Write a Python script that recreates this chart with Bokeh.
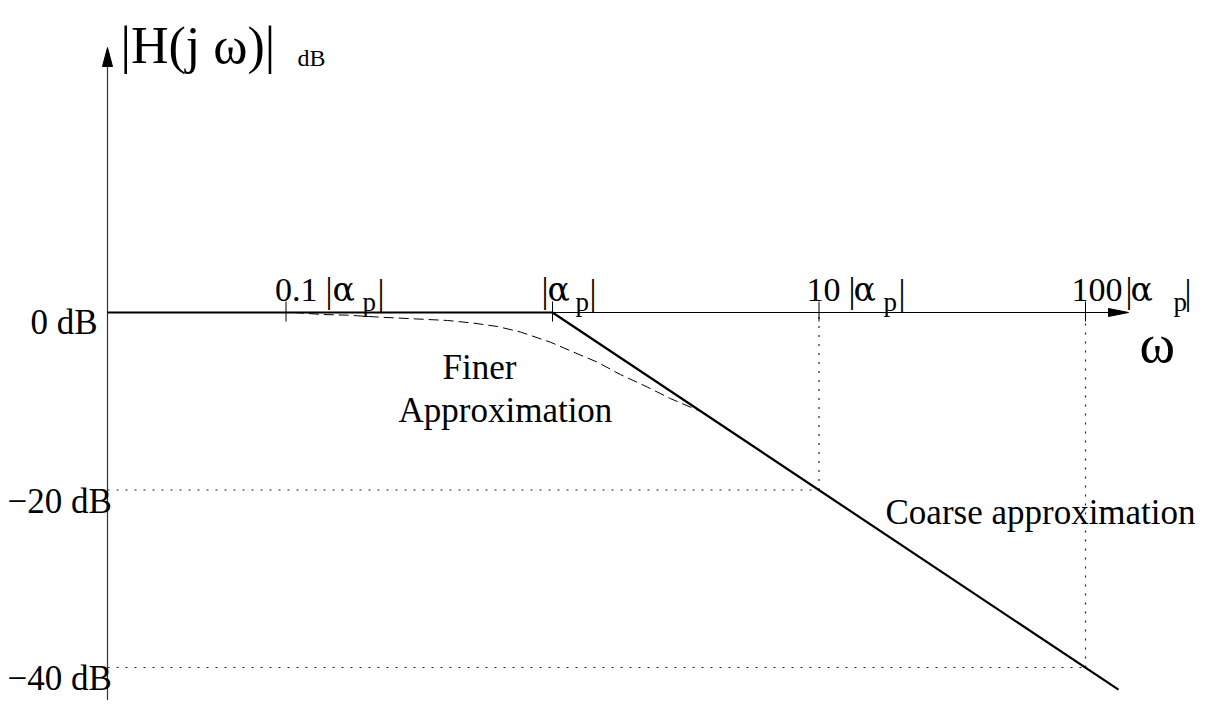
from bokeh.plotting import figure
from bokeh.models import Range1d
from bokeh.core.properties import value
from bokeh.embed import file_html
from bokeh.resources import INLINE

# ---------------- data ----------------
tick_omega = [0.1, 1.0, 10.0, 100.0]          # multiples of |alpha_p|
tick_numbers = ["0.1", "", "10", "100"]
db_levels = [0, -20, -40]
db_labels = ["0 dB", "\u221220 dB", "\u221240 dB"]
guide_omega = [10.0, 100.0]                   # asymptote crossing points
guide_db = [-20, -40]
# coarse (asymptotic) approximation: flat, break at |alpha_p|, -20 dB/decade
coarse_omega = [0.0214, 1.0, 133.0]
coarse_db = [0.0, 0.0, -42.5]
# finer approximation (dashed)
finer_omega = [0.107, 0.138, 0.170, 0.226, 0.302, 0.404, 0.507, 0.622, 0.759,
               0.983, 1.20, 1.475, 1.80, 2.27, 2.77, 3.38, 3.69]
finer_db = [0.0, -0.23, -0.30, -0.53, -0.71, -0.9, -1.2, -1.58, -2.2,
            -3.35, -4.47, -5.6, -7.0, -8.4, -9.7, -10.8, -11.3]

# ---------------- layout (pixel geometry) ----------------
W, H = 1200, 700
OMEGA1_PX, DECADE_PX = 552.0, 266.5
DB0_PX, PX_PER_DB = 312.0, 8.875
LX0 = (0 - OMEGA1_PX) / DECADE_PX
LX1 = (W - OMEGA1_PX) / DECADE_PX
DB_TOP = DB0_PX / PX_PER_DB
DB_BOT = -(H - DB0_PX) / PX_PER_DB


def wx(px):
    return 10 ** ((px - OMEGA1_PX) / DECADE_PX)


def dby(py):
    return -(py - DB0_PX) / PX_PER_DB


FONT = "Liberation Serif"

p = figure(width=W, height=H, x_axis_type="log",
           x_range=Range1d(10 ** LX0, 10 ** LX1), y_range=Range1d(DB_BOT, DB_TOP),
           x_axis_location=None, y_axis_location=None,
           output_backend="svg", toolbar_location=None, min_border=0)
p.grid.visible = False
p.outline_line_color = None
p.background_fill_color = "white"
p.border_fill_color = "white"

axis_x = wx(107)

# dotted guides
gx, gy = [], []
for w, d in zip(guide_omega, guide_db):
    gx.append([axis_x, w]); gy.append([d, d])
    gx.append([w, w]); gy.append([d, 0])
p.multi_line(gx, gy, line_color="#222222", line_width=1.2, line_dash="2 7")

# axes
p.line([axis_x, wx(1110)], [0, 0], line_color="black", line_width=1.2)
p.line([axis_x, axis_x], [DB_BOT, dby(64)], line_color="#333333", line_width=1.2)
p.patch([wx(1128), wx(1108), wx(1108)], [0, dby(308), dby(316)],
        fill_color="black", line_color="black", line_width=1)
p.patch([axis_x, wx(102), wx(112)], [dby(47), dby(66), dby(66)],
        fill_color="black", line_color="black", line_width=1)

# ticks
p.segment(x0=tick_omega, y0=[dby(301)] * 4, x1=tick_omega, y1=[dby(321)] * 4,
          line_color="black", line_width=1)

# curves
p.line(finer_omega, finer_db, line_color="black", line_width=1, line_dash="10 5")
p.line(coarse_omega, coarse_db, line_color="black", line_width=2.2)


def txt(xs, ys, texts, size, align="left", font=FONT):
    p.text(x=xs, y=ys, text=texts, text_font=value(font), text_font_size=size,
           text_baseline="alphabetic", text_align=align, text_color="black")


# y labels
txt([wx(30), wx(7), wx(7)], [dby(322), dby(501), dby(678)], db_labels, "35px")

# tick labels
txt([wx(317), wx(540), wx(840), wx(1122)], [dby(289)] * 4, tick_numbers, "34px", "right")
txt([wx(325), wx(541), wx(848), wx(1125)], [dby(290)] * 4, ["|"] * 4, "35px")
txt([wx(332), wx(547), wx(853), wx(1130)], [dby(289)] * 4, ["\u03b1"] * 4, "33px",
    font="DejaVu Serif")
txt([wx(362), wx(575), wx(883), wx(1173)], [dby(301)] * 4, ["p"] * 4, "27px")
txt([wx(377), wx(589), wx(898), wx(1184)], [dby(292)] * 4, ["|"] * 4, "35px")

# title and axis name
txt([wx(120)], [dby(45)], ["|H(j \u03c9)|"], "52px")
txt([wx(297)], [dby(57)], ["dB"], "24px")
txt([wx(1139)], [dby(343)], ["\u03c9"], "54px")

# annotations
txt([wx(442)], [dby(367)], ["Finer"], "35px")
txt([wx(398)], [dby(410)], ["Approximation"], "35px")
txt([wx(885)], [dby(512)], ["Coarse approximation"], "35px")

open("out.html", "w").write(file_html(p, INLINE))
